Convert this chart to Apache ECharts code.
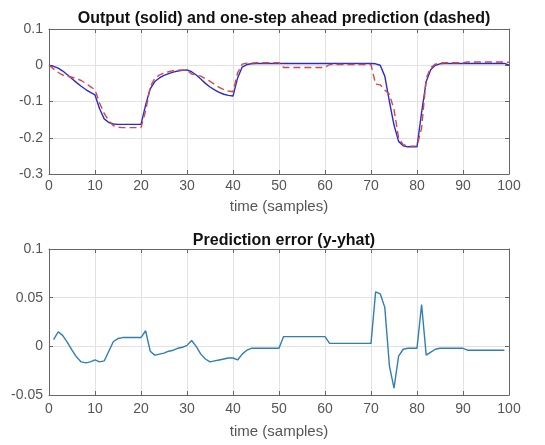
<!DOCTYPE html>
<html>
<head>
<meta charset="utf-8">
<script src="https://cdn.jsdelivr.net/npm/echarts@6/dist/echarts.min.js"></script>
<style>html,body{margin:0;padding:0;background:#fff}#c{width:545px;height:445px}</style>
</head>
<body>
<div id="c"></div>
<script>
// Output y, samples 0..100
var outputY = [
 0, -0.003, -0.008, -0.016, -0.026, -0.037, -0.048, -0.058, -0.067, -0.075,
 -0.082, -0.12, -0.148, -0.158, -0.162, -0.163, -0.163, -0.163, -0.163, -0.163,
 -0.163, -0.11, -0.065, -0.045, -0.035, -0.028, -0.023, -0.019, -0.016, -0.014,
 -0.013, -0.018, -0.027, -0.038, -0.05, -0.06, -0.068, -0.075, -0.08, -0.083,
 -0.085, -0.035, -0.005, 0.002, 0.004, 0.005, 0.005, 0.005, 0.005, 0.005,
 0.005, 0.005, 0.005, 0.005, 0.005, 0.005, 0.005, 0.005, 0.005, 0.005,
 0.005, 0.005, 0.005, 0.005, 0.005, 0.005, 0.005, 0.005, 0.005, 0.005,
 0.005, 0.004, 0.0, -0.03, -0.1, -0.165, -0.21, -0.222, -0.225, -0.225,
 -0.225, -0.13, -0.045, -0.012, 0.0, 0.004, 0.005, 0.005, 0.005, 0.005,
 0.005, 0.005, 0.005, 0.005, 0.005, 0.005, 0.005, 0.005, 0.005, 0.005,
 0.0
];
// One-step ahead prediction yhat, samples 0..100
var predictionY = [
 0, -0.01, -0.02, -0.027, -0.03, -0.033, -0.037, -0.042, -0.05, -0.059,
 -0.068, -0.104, -0.133, -0.153, -0.167, -0.171, -0.172, -0.172, -0.172, -0.172,
 -0.172, -0.126, -0.06, -0.036, -0.027, -0.021, -0.018, -0.015, -0.014, -0.013,
 -0.014, -0.024, -0.027, -0.03, -0.037, -0.044, -0.053, -0.061, -0.067, -0.071,
 -0.073, -0.021, 0.003, 0.006, 0.006, 0.007, 0.007, 0.007, 0.007, 0.007,
 0.007, -0.006, -0.006, -0.006, -0.006, -0.006, -0.006, -0.006, -0.006, -0.006,
 -0.006, 0.002, 0.002, 0.002, 0.002, 0.002, 0.002, 0.002, 0.002, 0.002,
 0.002, -0.052, -0.054, -0.068, -0.08, -0.122, -0.2, -0.219, -0.223, -0.223,
 -0.223, -0.173, -0.036, -0.006, 0.003, 0.006, 0.007, 0.007, 0.007, 0.007,
 0.007, 0.009, 0.009, 0.009, 0.009, 0.009, 0.009, 0.009, 0.009, 0.009,
 0.008
];
// Prediction error, samples 1..99
var errorStart = 1;
var predError = [
 0.007, 0.015, 0.011, 0.004, -0.004, -0.011, -0.016, -0.017, -0.016, -0.014,
 -0.016, -0.015, -0.005, 0.005, 0.008, 0.009, 0.009, 0.009, 0.009, 0.009,
 0.016, -0.005, -0.009, -0.008, -0.007, -0.005, -0.004, -0.002, -0.001, 0.001,
 0.006, 0.0, -0.008, -0.013, -0.016, -0.015, -0.014, -0.013, -0.012, -0.012,
 -0.014, -0.008, -0.004, -0.002, -0.002, -0.002, -0.002, -0.002, -0.002, -0.002,
 0.01, 0.01, 0.01, 0.01, 0.01, 0.01, 0.01, 0.01, 0.01, 0.01,
 0.003, 0.003, 0.003, 0.003, 0.003, 0.003, 0.003, 0.003, 0.003, 0.003,
 0.056, 0.054, 0.04, -0.02, -0.043, -0.01, -0.003, -0.002, -0.002, -0.002,
 0.043, -0.009, -0.006, -0.003, -0.002, -0.002, -0.002, -0.002, -0.002, -0.002,
 -0.004, -0.004, -0.004, -0.004, -0.004, -0.004, -0.004, -0.004, -0.004
];
var topTitle = 'Output (solid) and one-step ahead prediction (dashed)';
var bottomTitle = 'Prediction error (y-yhat)';
var xName = 'time (samples)';

function pairs(arr, start) {
  return arr.map(function (v, i) { return [start + i, v]; });
}

var font = 'Liberation Sans, Arial, Helvetica, sans-serif';
var axisColor = '#666666';
var gridColor = '#e2e2e2';
var labelColor = '#555555';

function xAx(gridIndex, top, margin, nameGap) {
  return {
    type: 'value', gridIndex: gridIndex, min: 0, max: 100, interval: 10,
    position: top ? 'top' : 'bottom',
    name: top ? '' : xName, nameLocation: 'middle', nameGap: nameGap,
    nameTextStyle: { fontFamily: font, fontSize: 15, color: labelColor },
    axisLine: { show: true, onZero: false, lineStyle: { color: axisColor, width: 1 } },
    axisTick: { show: true, inside: true, length: 4, lineStyle: { color: axisColor } },
    axisLabel: { show: !top, fontFamily: font, fontSize: 14, color: labelColor, margin: margin },
    splitLine: { show: !top, lineStyle: { color: gridColor, width: 1 } }
  };
}
function yAx(gridIndex, right, min, max, interval) {
  return {
    type: 'value', gridIndex: gridIndex, min: min, max: max, interval: interval,
    position: right ? 'right' : 'left',
    axisLine: { show: true, onZero: false, lineStyle: { color: axisColor, width: 1 } },
    axisTick: { show: true, inside: true, length: 4, lineStyle: { color: axisColor } },
    axisLabel: { show: !right, fontFamily: font, fontSize: 14, color: labelColor, margin: 6,
      formatter: function (v) { return String(Math.round(v * 1000) / 1000); } },
    splitLine: { show: !right, lineStyle: { color: gridColor, width: 1 } }
  };
}

var chart = echarts.init(document.getElementById('c'), null, { renderer: 'canvas' });
chart.setOption({
  animation: false,
  backgroundColor: '#fff',
  title: [
    { text: topTitle, left: 279, top: 6, textAlign: 'center',
      textStyle: { fontFamily: font, fontSize: 16, fontWeight: 'bold', color: '#111' } },
    { text: bottomTitle, left: 279, top: 228, textAlign: 'center',
      textStyle: { fontFamily: font, fontSize: 16, fontWeight: 'bold', color: '#111' } }
  ],
  grid: [
    { left: 49, right: 36, top: 29, height: 145 },
    { left: 49, right: 36, top: 249, height: 146 }
  ],
  xAxis: [xAx(0, false, 5, 25), xAx(0, true, 5, 25), xAx(1, false, 7, 29), xAx(1, true, 7, 29)],
  yAxis: [yAx(0, false, -0.3, 0.1, 0.1), yAx(0, true, -0.3, 0.1, 0.1),
          yAx(1, false, -0.05, 0.1, 0.05), yAx(1, true, -0.05, 0.1, 0.05)],
  series: [
    { type: 'line', xAxisIndex: 0, yAxisIndex: 0, data: pairs(outputY, 0),
      showSymbol: false, lineStyle: { color: '#2a2ad0', width: 1.4 }, z: 3 },
    { type: 'line', xAxisIndex: 0, yAxisIndex: 0, data: pairs(predictionY, 0),
      showSymbol: false, lineStyle: { color: '#d24a44', width: 1.4, type: [7, 4] }, z: 4 },
    { type: 'line', xAxisIndex: 2, yAxisIndex: 2, data: pairs(predError, errorStart),
      showSymbol: false, lineStyle: { color: '#2f7fb3', width: 1.4 }, z: 3 }
  ]
});
</script>
</body>
</html>
